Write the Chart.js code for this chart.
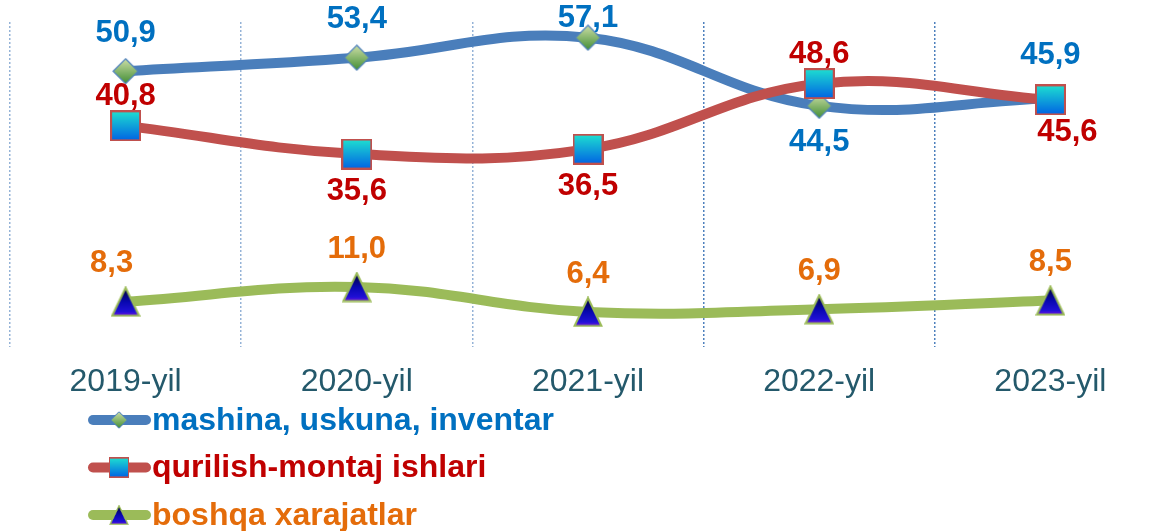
<!DOCTYPE html>
<html>
<head>
<meta charset="utf-8">
<script src="https://cdn.jsdelivr.net/npm/chart.js@4.4.0/dist/chart.umd.min.js"></script>
<style>
  html, body { margin: 0; padding: 0; background: #fff; overflow: hidden; }
</style>
</head>
<body>
<canvas id="chart" width="1170" height="531"></canvas>
<script>
// data
const years = ['2019-yil', '2020-yil', '2021-yil', '2022-yil', '2023-yil'];
const machinery = [50.9, 53.4, 57.1, 44.5, 45.9];
const construction = [40.8, 35.6, 36.5, 48.6, 45.6];
const other = [8.3, 11.0, 6.4, 6.9, 8.5];
const seriesNames = ['mashina, uskuna, inventar', 'qurilish-montaj ishlari', 'boshqa xarajatlar'];
// where each value label sits relative to its point
const machinerySide = ['up', 'up', 'hug', 'down', 'high'];
const constructionSide = ['low', 'down', 'down', 'low', 'downRight'];
const otherSide = ['upLeft', 'up', 'up', 'up', 'up'];
const sideOffset = {
  up: [0, -38], high: [0, -43], low: [0, -29], hug: [0, -19],
  down: [0, 37], downRight: [17, 33], upLeft: [-14, -38]
};

function makeMarker(w, h, draw) {
  const c = document.createElement('canvas');
  c.width = w; c.height = h;
  draw(c.getContext('2d'), w, h);
  return c;
}

const diamond = makeMarker(27, 27, (g, w, h) => {
  const gr = g.createLinearGradient(0, 0, 0, h);
  gr.addColorStop(0, '#d3e2ab');
  gr.addColorStop(1, '#3c8a30');
  g.beginPath();
  g.moveTo(w / 2, 1); g.lineTo(w - 1, h / 2); g.lineTo(w / 2, h - 1); g.lineTo(1, h / 2);
  g.closePath();
  g.fillStyle = gr; g.fill();
  g.strokeStyle = '#4f81bd'; g.lineWidth = 1.2; g.stroke();
});

const square = makeMarker(31, 31, (g, w, h) => {
  const gr = g.createLinearGradient(0, 0, 0, h);
  gr.addColorStop(0, '#1fe3d0');
  gr.addColorStop(1, '#0060e4');
  g.fillStyle = gr;
  g.fillRect(1, 1, w - 2, h - 2);
  g.strokeStyle = '#c0504d'; g.lineWidth = 2;
  g.strokeRect(1, 1, w - 2, h - 2);
});

const triangle = makeMarker(30, 31, (g, w, h) => {
  const gr = g.createLinearGradient(0, 0, 0, h);
  gr.addColorStop(0, '#000022');
  gr.addColorStop(0.5, '#0808b0');
  gr.addColorStop(0.82, '#2010d6');
  gr.addColorStop(1, '#8c10e0');
  g.beginPath();
  g.moveTo(w / 2, 1.5); g.lineTo(w - 1.5, h - 1.5); g.lineTo(1.5, h - 1.5);
  g.closePath();
  g.fillStyle = gr; g.fill();
  g.strokeStyle = '#9bbb59'; g.lineWidth = 2; g.stroke();
});

const fmt = v => v.toFixed(1).replace('.', ',');

const valueLabels = {
  id: 'valueLabels',
  afterDatasetsDraw(chart) {
    const ctx = chart.ctx;
    ctx.save();
    ctx.font = 'bold 31px "Liberation Sans", Arial, sans-serif';
    ctx.textAlign = 'center';
    ctx.textBaseline = 'middle';
    chart.data.datasets.forEach((ds, i) => {
      const meta = chart.getDatasetMeta(i);
      meta.data.forEach((pt, j) => {
        const [dx, dy] = sideOffset[ds.labelSide[j]];
        ctx.fillStyle = ds.labelColor;
        ctx.fillText(fmt(ds.data[j]), pt.x + dx, pt.y + dy);
      });
    });
    ctx.restore();
  }
};

const sideLegend = {
  id: 'sideLegend',
  afterDraw(chart) {
    const ctx = chart.ctx;
    ctx.save();
    ctx.font = 'bold 32px "Liberation Sans", Arial, sans-serif';
    ctx.textBaseline = 'middle';
    chart.data.datasets.forEach((ds, i) => {
      const y = 420 + i * 47.5;
      ctx.strokeStyle = ds.borderColor;
      ctx.lineWidth = 10;
      ctx.lineCap = 'round';
      ctx.beginPath(); ctx.moveTo(93, y); ctx.lineTo(146, y); ctx.stroke();
      const img = ds.pointStyle;
      const w = img.width * 0.66, h = img.height * 0.66;
      ctx.drawImage(img, 119 - w / 2, y - h / 2, w, h);
      ctx.fillStyle = ds.labelColor;
      ctx.fillText(ds.label, 152, y + 1);
    });
    ctx.restore();
  }
};

new Chart(document.getElementById('chart').getContext('2d'), {
  type: 'line',
  data: {
    labels: years,
    datasets: [{
      label: seriesNames[0],
      data: machinery,
      labelSide: machinerySide,
      labelColor: '#0070c0',
      borderColor: '#4a7ebb',
      borderWidth: 10,
      tension: 0.4,
      pointStyle: diamond,
      pointRadius: 13,
      order: 3
    },
    {
      label: seriesNames[1],
      data: construction,
      labelSide: constructionSide,
      labelColor: '#c00000',
      borderColor: '#c0504d',
      borderWidth: 10,
      tension: 0.4,
      pointStyle: square,
      pointRadius: 15,
      order: 2
    },
    {
      label: seriesNames[2],
      data: other,
      labelSide: otherSide,
      labelColor: '#e46c0a',
      borderColor: '#9bbb59',
      borderWidth: 10,
      tension: 0.4,
      pointStyle: triangle,
      pointRadius: 15,
      order: 1
    }]
  },
  options: {
    responsive: false,
    animation: false,
    layout: { autoPadding: false, padding: { left: 10, right: 4, top: 22, bottom: 114 } },
    plugins: { legend: { display: false }, tooltip: { enabled: false } },
    scales: {
      x: {
        offset: true,
        grid: {
          offset: true,
          color: c => (c.index >= 3 ? '#4f81bd' : '#95b3d7'),
          lineWidth: 1.5,
          drawTicks: false
        },
        border: { display: false, dash: [2, 2] },
        ticks: {
          color: '#24596b',
          padding: 16,
          font: { family: '"Liberation Sans", Arial, sans-serif', size: 32 }
        }
      },
      y: { display: false, min: 0, max: 60 }
    }
  },
  plugins: [valueLabels, sideLegend]
});
</script>
</body>
</html>
